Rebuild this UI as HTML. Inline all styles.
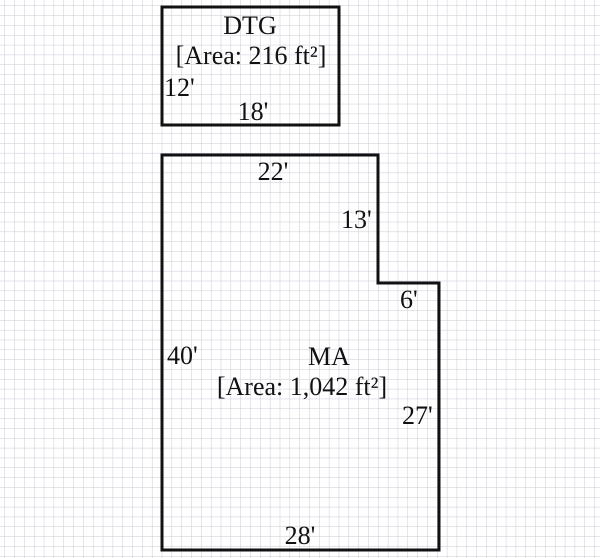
<!DOCTYPE html>
<html><head><style>
html,body{margin:0;padding:0;background:#fff;}
svg{display:block;}
text{font-family:"Liberation Serif",serif;font-size:26px;fill:#111;}
</style></head><body>
<svg width="600" height="558" viewBox="0 0 600 558" xmlns="http://www.w3.org/2000/svg">
<defs>
<pattern id="g" x="4.5" y="5.5" width="9.83" height="9.83" patternUnits="userSpaceOnUse">
<path d="M0 0H9.83M0 0V9.83" stroke="#c9cad8" stroke-width="1" fill="none"/>
</pattern>
</defs>
<rect width="600" height="558" fill="url(#g)"/>
<rect x="162" y="7" width="177" height="118" fill="none" stroke="#111" stroke-width="3"/>
<path d="M162 155H378V283H439V550H162Z" fill="none" stroke="#111" stroke-width="3"/>
<text x="250" y="34" text-anchor="middle">DTG</text>
<text x="251" y="64" text-anchor="middle">[Area: 216 ft²]</text>
<text x="164" y="96">12'</text>
<text x="253" y="120" text-anchor="middle">18'</text>
<text x="273" y="180" text-anchor="middle">22'</text>
<text x="341" y="228">13'</text>
<text x="400" y="308">6'</text>
<text x="167" y="364">40'</text>
<text x="329" y="365" text-anchor="middle">MA</text>
<text x="302" y="395" text-anchor="middle">[Area: 1,042 ft²]</text>
<text x="402" y="424">27'</text>
<text x="300" y="544" text-anchor="middle">28'</text>
</svg>
</body></html>
